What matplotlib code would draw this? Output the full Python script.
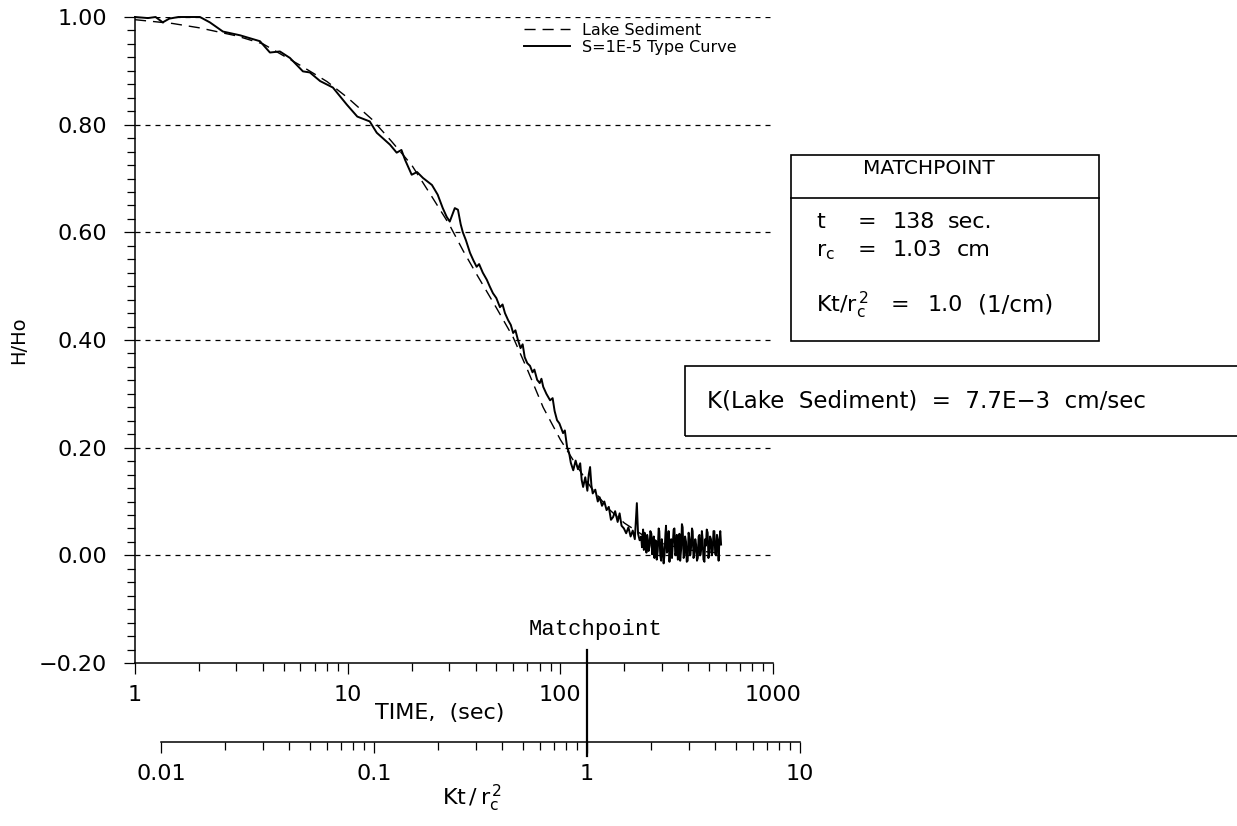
import numpy as np
import matplotlib.pyplot as plt
from matplotlib.patches import Rectangle
from matplotlib.ticker import FixedLocator, LogLocator, MultipleLocator, NullFormatter
from matplotlib.transforms import blended_transform_factory

plt.rcParams['font.family'] = ['DejaVu Sans']
plt.rcParams['mathtext.default'] = 'regular'

# measured response, Lake Sediment slug test (solid trace)
time_obs = [1.0, 1.15, 1.25, 1.35, 1.45, 1.6, 1.8, 2.02, 2.25, 2.59, 3.12, 3.87, 4.31,
            4.80, 5.35, 6.16, 6.64, 7.42, 8.52, 9.20, 9.92, 11.1, 12.7, 13.7, 15.8,
            17.0, 17.9, 18.6, 20.0, 21.2, 22.6, 24.9, 26.5, 28.0, 29.2, 30.2, 31.0,
            31.9, 33.0, 34.0, 34.8, 36.0, 37.6, 39.0, 40.4, 41.5, 43.2, 45.1, 46.5,
            48.2, 50.0, 52.0, 53.5, 54.9, 56.8, 58.5, 60.0, 61.5, 63.2, 65.0, 66.5,
            68.0, 69.9, 72.0, 74.0, 75.5, 77.8, 80.0, 81.5, 83.1, 86.0, 89.5, 92.0,
            94.0, 96.5, 99.0, 101, 103, 105, 107.6, 110, 112, 115, 118, 121, 124,
            126, 128, 131, 134, 136, 138, 140, 142, 146, 150, 153, 157, 161, 165,
            169, 173, 177, 181, 186, 190, 194, 199, 204, 209, 214, 219, 224, 229,
            232, 236,
            240, 242, 245, 247, 249, 251, 254, 256, 258, 260, 263, 265, 268, 270, 272,
            275, 277, 280, 282, 284, 287, 290, 292, 295, 298, 300, 303, 306, 309, 312,
            314, 317, 320, 323, 326, 329, 332, 335, 338, 341, 344, 347, 350, 353, 357,
            360, 363, 366, 370, 373, 376, 380, 383, 386, 390, 393, 397, 401, 405, 408,
            412, 416, 419, 423, 427, 431, 435, 439, 443, 447, 451, 455, 459, 463, 467,
            471, 476, 480, 484, 488, 493, 497, 502, 506, 511, 516, 521, 525, 530, 535,
            540, 545, 550, 555, 560, 565, 570]
h_obs = [1.0, 0.998, 1.0, 0.99, 0.997, 1.0, 1.0, 1.0, 0.99, 0.973, 0.966, 0.955, 0.934,
         0.936, 0.924, 0.899, 0.897, 0.881, 0.869, 0.853, 0.837, 0.815, 0.806, 0.785, 0.763,
         0.748, 0.753, 0.735, 0.707, 0.712, 0.701, 0.688, 0.670, 0.645, 0.629, 0.620, 0.632,
         0.645, 0.642, 0.615, 0.600, 0.585, 0.562, 0.548, 0.536, 0.541, 0.525, 0.512, 0.500,
         0.487, 0.478, 0.461, 0.466, 0.450, 0.437, 0.428, 0.413, 0.418, 0.400, 0.385, 0.392,
         0.368, 0.357, 0.352, 0.340, 0.345, 0.326, 0.320, 0.328, 0.313, 0.300, 0.288, 0.292,
         0.268, 0.251, 0.245, 0.236, 0.227, 0.232, 0.201, 0.190, 0.172, 0.158, 0.176, 0.160, 0.171,
         0.140, 0.127, 0.145, 0.120, 0.150, 0.164, 0.130, 0.115, 0.122, 0.100, 0.108, 0.092, 0.100, 0.084,
         0.090, 0.066, 0.071, 0.082, 0.062, 0.078, 0.055, 0.050, 0.041, 0.052, 0.035, 0.046, 0.030, 0.097,
         0.040, 0.028,
         0.035, 0.015, 0.048, 0.010, 0.042, 0.020, 0.005, 0.038, 0.030, 0.008,
         0.018, 0.045, 0.040, 0.002, 0.010, 0.035, -0.005, 0.028, 0.025, -0.008,
         0.008, 0.050, 0.045, 0.000, -0.010, 0.030, 0.015, -0.015, 0.002, 0.040,
         0.055, 0.005, 0.010, 0.045, -0.012, 0.020, 0.030, -0.005, 0.020, 0.048,
         0.050, 0.000, 0.005, 0.038, -0.008, 0.012, 0.040, -0.010, 0.012, 0.058,
         0.052, -0.005, 0.000, 0.035, 0.025, -0.012, -0.010, 0.042, 0.030, 0.000,
         0.015, 0.050, 0.045, -0.005, 0.005, 0.030, 0.020, -0.010, -0.005, 0.035,
         0.038, 0.000, 0.010, 0.045, 0.028, -0.008, -0.012, 0.030, 0.018, 0.048,
         0.042, -0.005, 0.005, 0.035, 0.030, 0.000, 0.010, 0.045, 0.045, 0.002,
         0.000, 0.038, 0.025, -0.010, 0.030, 0.045, 0.020]

# S=1E-5 type curve (dashed)
time_type = [1.0, 1.5, 2.0, 3.0, 4.0, 6.0, 8.0, 10, 13, 16, 20, 25, 30, 35, 40, 50, 60,
             70, 83, 100, 120, 140, 170, 200, 250, 300, 400, 570]
h_type = [0.995, 0.988, 0.980, 0.965, 0.950, 0.910, 0.880, 0.850, 0.810, 0.770, 0.725,
          0.665, 0.615, 0.565, 0.525, 0.460, 0.405, 0.345, 0.275, 0.215, 0.165, 0.125,
          0.085, 0.060, 0.035, 0.022, 0.010, 0.004]

yticks = [-0.2, 0.0, 0.2, 0.4, 0.6, 0.8, 1.0]
ytick_labels = ['\u22120.20', '0.00', '0.20', '0.40', '0.60', '0.80', '1.00']
xticks = [1, 10, 100, 1000]
xtick_labels = ['1', '10', '100', '1000']
kticks = [0.01, 0.1, 1, 10]
ktick_labels = ['0.01', '0.1', '1', '10']

t_match = 138
rc_match = 1.03
ktr_match = 1.0
k_value = '7.7E\u22123'

W, H = 1237, 826
fig = plt.figure(figsize=(W / 100, H / 100), dpi=100)


def rect(x0, y0, x1, y1):
    return [x0 / W, 1 - y1 / H, (x1 - x0) / W, (y1 - y0) / H]


def fx(x):
    return x / W


def fy(y):
    return 1 - y / H


fs = 16

ax = fig.add_axes(rect(135, 17, 773, 663))
ax.plot(time_obs, h_obs, color='black', lw=1.4, label='S=1E-5 Type Curve', clip_on=False, zorder=3)
ax.plot(time_type, h_type, color='black', lw=1.0, ls=(0, (8, 5)), label='Lake Sediment', clip_on=False, zorder=3)

ax.set_xscale('log')
ax.set_xlim(1, 1000)
ax.set_ylim(-0.2, 1.0)
for s in ['top', 'right']:
    ax.spines[s].set_visible(False)
for s in ['left', 'bottom']:
    ax.spines[s].set_linewidth(1.1)

ax.yaxis.set_major_locator(FixedLocator(yticks))
ax.set_yticklabels(ytick_labels)
ax.yaxis.set_minor_locator(MultipleLocator(0.025))
ax.xaxis.set_major_locator(FixedLocator(xticks))
ax.set_xticklabels(xtick_labels)
ax.xaxis.set_minor_locator(LogLocator(base=10, subs=np.arange(2, 10)))
ax.xaxis.set_minor_formatter(NullFormatter())
ax.tick_params(which='major', direction='out', length=8, width=0.9, labelsize=fs, color='black')
ax.tick_params(which='minor', direction='out', length=6, width=0.9)
ax.tick_params(axis='y', which='major', pad=12)
ax.tick_params(axis='x', which='major', pad=8)

for yv in yticks[1:]:
    ax.axhline(yv, color='black', lw=0.9, ls=(0, (4, 4)), zorder=1)

ax.set_xlabel('TIME,  (sec)', fontsize=fs)
ax.xaxis.set_label_coords((440 - 135) / 638, (663 - 703) / 646)
ax.set_ylabel('H/Ho', fontsize=14)
ax.yaxis.set_label_coords((28 - 135) / 638, 0.5)

handles, labels = ax.get_legend_handles_labels()
ax.legend(handles[::-1], labels[::-1], loc='upper left', bbox_to_anchor=((524 - 135) / 638, (663 - 23) / 646),
          frameon=False, fontsize=11.5, handlelength=2.9, handletextpad=0.7, labelspacing=0.1,
          borderpad=0, borderaxespad=0)

# second axis: Kt/rc^2
ax2 = fig.add_axes(rect(161, 741, 800, 742))
ax2.set_xscale('log')
ax2.set_xlim(0.01, 10)
ax2.patch.set_visible(False)
for s in ['top', 'right', 'left']:
    ax2.spines[s].set_visible(False)
ax2.spines['bottom'].set_linewidth(1.1)
ax2.set_yticks([])
ax2.xaxis.set_major_locator(FixedLocator(kticks))
ax2.set_xticklabels(ktick_labels)
ax2.xaxis.set_minor_locator(LogLocator(base=10, subs=np.arange(2, 10)))
ax2.xaxis.set_minor_formatter(NullFormatter())
ax2.tick_params(which='major', direction='out', length=8, width=0.9, labelsize=fs, pad=8)
ax2.tick_params(which='minor', direction='out', length=6, width=0.9)

trans = blended_transform_factory(ax2.transData, fig.transFigure)
ax2.plot([ktr_match, ktr_match], [fy(650), fy(756)], color='black', lw=1.6, transform=trans, clip_on=False)
fig.text(fx(595), fy(630), 'Matchpoint', family='Liberation Mono', fontsize=fs, ha='center', va='center')
fig.text(fx(472), fy(798), r'Kt$\,$/$\,r_{c}^{\,2}$', fontsize=fs, ha='center', va='center')

# matchpoint box
fig.patches.append(Rectangle((fx(791), fy(341)), fx(1099) - fx(791), fy(155) - fy(341),
                             transform=fig.transFigure, fill=False, ec='black', lw=1.2))
fig.add_artist(plt.Line2D([fx(791), fx(1099)], [fy(198), fy(198)], color='black', lw=1.2))
fig.text(fx(929), fy(169), 'MATCHPOINT', fontsize=14.5, ha='center', va='center')
fig.text(fx(816), fy(222), 't', fontsize=fs, va='center')
fig.text(fx(858), fy(222), '=', fontsize=fs, va='center')
fig.text(fx(893), fy(222), f'{t_match}', fontsize=fs, va='center')
fig.text(fx(948), fy(222), 'sec.', fontsize=fs, va='center')
fig.text(fx(816), fy(252), r'$r_{c}$', fontsize=fs, va='center')
fig.text(fx(858), fy(250), '=', fontsize=fs, va='center')
fig.text(fx(893), fy(250), f'{rc_match:.2f}', fontsize=fs, va='center')
fig.text(fx(957), fy(250), 'cm', fontsize=fs, va='center')
fig.text(fx(816), fy(305), r'Kt/$r_{c}^{\,2}$', fontsize=fs, va='center')
fig.text(fx(891), fy(305), '=', fontsize=fs, va='center')
fig.text(fx(928), fy(305), f'{ktr_match:.1f}', fontsize=fs, va='center')
fig.text(fx(978), fy(305), '(1/cm)', fontsize=16.5, va='center')

# K result box
fig.patches.append(Rectangle((fx(685), fy(436)), fx(1250) - fx(685), fy(366) - fy(436),
                             transform=fig.transFigure, fill=False, ec='black', lw=1.2, clip_on=False))
fig.text(fx(707), fy(401), f'K(Lake  Sediment)  =  {k_value}  cm/sec', fontsize=16.5, va='center')

fig.savefig('out.png', dpi=100)
